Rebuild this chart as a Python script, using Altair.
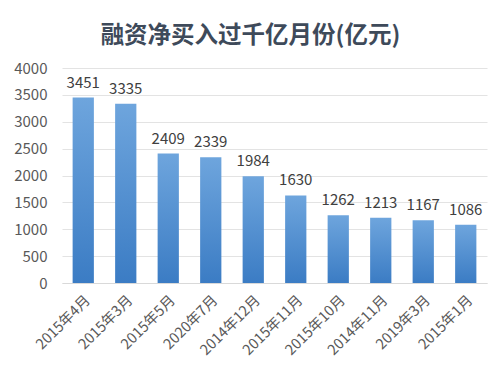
import altair as alt
import pandas as pd

months = ["2015年4月", "2015年3月", "2015年5月", "2020年7月", "2014年12月",
          "2015年11月", "2015年10月", "2014年11月", "2019年3月", "2015年1月"]
values = [3451, 3335, 2409, 2339, 1984, 1630, 1262, 1213, 1167, 1086]
y_ticks = [0, 500, 1000, 1500, 2000, 2500, 3000, 3500, 4000]

df = pd.DataFrame({"month": months, "value": values})
FONT = "Noto Sans CJK SC"

x = alt.X("month:N", sort=months, title=None,
          scale=alt.Scale(paddingInner=0.5, paddingOuter=0.25),
          axis=alt.Axis(labelAngle=-45, labelFontSize=14.5, labelColor="#595959",
                        labelFont=FONT, ticks=False, domainColor="#d9d9d9",
                        labelPadding=10))
y = alt.Y("value:Q", title=None,
          scale=alt.Scale(domain=[0, 4000], nice=False),
          axis=alt.Axis(values=y_ticks, format="d", labelFontSize=15,
                        labelColor="#595959", labelFont=FONT, ticks=False,
                        domain=False, gridColor="#e3e3e3", labelPadding=15))

bars = alt.Chart(df).mark_bar(
    color=alt.Gradient(gradient="linear",
                       stops=[alt.GradientStop(color="#6ea5dd", offset=0),
                              alt.GradientStop(color="#3b7cc4", offset=1)],
                       x1=0, x2=0, y1=0, y2=1)
).encode(x=x, y=y)

labels = alt.Chart(df).mark_text(
    dy=-15, fontSize=15, color="#404040", font=FONT
).encode(x=x, y=y, text="value:Q")

chart = (bars + labels).properties(
    width=425, height=215,
    autosize=alt.AutoSizeParams(type="none"),
    padding={"left": 54, "top": 60, "right": 4, "bottom": 85},
    title=alt.TitleParams("融资净买入过千亿月份(亿元)", fontSize=23.5, font=FONT,
                          fontWeight="bold", color="#3e4a5a", anchor="middle",
                          dx=-24, offset=14),
).configure_view(stroke=None)

chart.save("out.html", embed_options={"renderer": "svg", "actions": False})
